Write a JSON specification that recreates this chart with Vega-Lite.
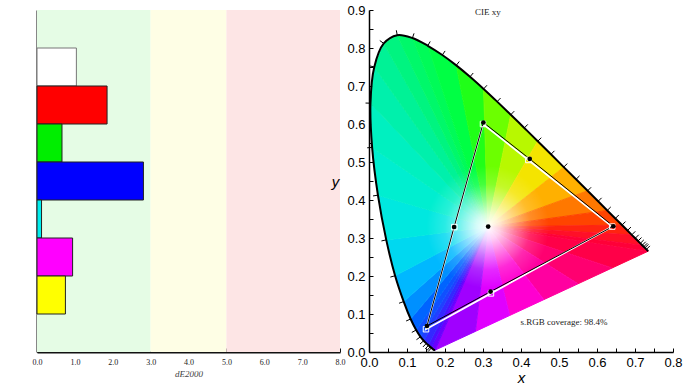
{
  "$schema": "https://vega.github.io/schema/vega-lite/v6.json",
  "background": "white",
  "padding": {"left": 32, "top": 4, "right": 5, "bottom": 2},
  "config": {"view": {"stroke": null}},
  "spacing": 29,
  "bounds": "flush",
  "resolve": {"scale": {"fill": "independent", "stroke": "independent", "color": "independent"}},
  "datasets": {
    "zones": [
      {"zone": "good", "lo": 0, "hi": 3},
      {"zone": "fair", "lo": 3, "hi": 5},
      {"zone": "poor", "lo": 5, "hi": 8}
    ],
    "bars": [
      {"patch": "White", "de": 1.04},
      {"patch": "Red", "de": 1.85},
      {"patch": "Green", "de": 0.66},
      {"patch": "Blue", "de": 2.81},
      {"patch": "Cyan", "de": 0.12},
      {"patch": "Magenta", "de": 0.94},
      {"patch": "Yellow", "de": 0.75}
    ],
    "fan": [
      {"s":0,"o":0,"x":0.3127,"y":0.329},{"s":0,"o":1,"x":0.7347,"y":0.2653},{"s":0,"o":2,"x":0.64,"y":0.2213},
      {"s":1,"o":0,"x":0.3127,"y":0.329},{"s":1,"o":1,"x":0.64,"y":0.2213},{"s":1,"o":2,"x":0.55,"y":0.1795},
      {"s":2,"o":0,"x":0.3127,"y":0.329},{"s":2,"o":1,"x":0.55,"y":0.1795},{"s":2,"o":2,"x":0.46,"y":0.1378},
      {"s":3,"o":0,"x":0.3127,"y":0.329},{"s":3,"o":1,"x":0.46,"y":0.1378},{"s":3,"o":2,"x":0.37,"y":0.096},
      {"s":4,"o":0,"x":0.3127,"y":0.329},{"s":4,"o":1,"x":0.37,"y":0.096},{"s":4,"o":2,"x":0.28,"y":0.0542},
      {"s":5,"o":0,"x":0.3127,"y":0.329},{"s":5,"o":1,"x":0.28,"y":0.0542},{"s":5,"o":2,"x":0.1741,"y":0.005},
      {"s":6,"o":0,"x":0.3127,"y":0.329},{"s":6,"o":1,"x":0.1741,"y":0.005},{"s":6,"o":2,"x":0.1644,"y":0.0109},
      {"s":7,"o":0,"x":0.3127,"y":0.329},{"s":7,"o":1,"x":0.1644,"y":0.0109},{"s":7,"o":2,"x":0.1566,"y":0.0177},
      {"s":8,"o":0,"x":0.3127,"y":0.329},{"s":8,"o":1,"x":0.1566,"y":0.0177},{"s":8,"o":2,"x":0.144,"y":0.0297},
      {"s":9,"o":0,"x":0.3127,"y":0.329},{"s":9,"o":1,"x":0.144,"y":0.0297},{"s":9,"o":2,"x":0.1355,"y":0.0399},
      {"s":10,"o":0,"x":0.3127,"y":0.329},{"s":10,"o":1,"x":0.1355,"y":0.0399},{"s":10,"o":2,"x":0.1241,"y":0.0578},
      {"s":11,"o":0,"x":0.3127,"y":0.329},{"s":11,"o":1,"x":0.1241,"y":0.0578},{"s":11,"o":2,"x":0.1096,"y":0.0868},
      {"s":12,"o":0,"x":0.3127,"y":0.329},{"s":12,"o":1,"x":0.1096,"y":0.0868},{"s":12,"o":2,"x":0.0913,"y":0.1327},
      {"s":13,"o":0,"x":0.3127,"y":0.329},{"s":13,"o":1,"x":0.0913,"y":0.1327},{"s":13,"o":2,"x":0.0687,"y":0.2007},
      {"s":14,"o":0,"x":0.3127,"y":0.329},{"s":14,"o":1,"x":0.0687,"y":0.2007},{"s":14,"o":2,"x":0.0454,"y":0.295},
      {"s":15,"o":0,"x":0.3127,"y":0.329},{"s":15,"o":1,"x":0.0454,"y":0.295},{"s":15,"o":2,"x":0.0235,"y":0.4127},
      {"s":16,"o":0,"x":0.3127,"y":0.329},{"s":16,"o":1,"x":0.0235,"y":0.4127},{"s":16,"o":2,"x":0.0082,"y":0.5384},
      {"s":17,"o":0,"x":0.3127,"y":0.329},{"s":17,"o":1,"x":0.0082,"y":0.5384},{"s":17,"o":2,"x":0.0039,"y":0.6548},
      {"s":18,"o":0,"x":0.3127,"y":0.329},{"s":18,"o":1,"x":0.0039,"y":0.6548},{"s":18,"o":2,"x":0.0139,"y":0.7502},
      {"s":19,"o":0,"x":0.3127,"y":0.329},{"s":19,"o":1,"x":0.0139,"y":0.7502},{"s":19,"o":2,"x":0.0389,"y":0.812},
      {"s":20,"o":0,"x":0.3127,"y":0.329},{"s":20,"o":1,"x":0.0389,"y":0.812},{"s":20,"o":2,"x":0.0743,"y":0.8338},
      {"s":21,"o":0,"x":0.3127,"y":0.329},{"s":21,"o":1,"x":0.0743,"y":0.8338},{"s":21,"o":2,"x":0.1142,"y":0.8262},
      {"s":22,"o":0,"x":0.3127,"y":0.329},{"s":22,"o":1,"x":0.1142,"y":0.8262},{"s":22,"o":2,"x":0.1547,"y":0.8059},
      {"s":23,"o":0,"x":0.3127,"y":0.329},{"s":23,"o":1,"x":0.1547,"y":0.8059},{"s":23,"o":2,"x":0.2296,"y":0.7543},
      {"s":24,"o":0,"x":0.3127,"y":0.329},{"s":24,"o":1,"x":0.2296,"y":0.7543},{"s":24,"o":2,"x":0.3016,"y":0.6923},
      {"s":25,"o":0,"x":0.3127,"y":0.329},{"s":25,"o":1,"x":0.3016,"y":0.6923},{"s":25,"o":2,"x":0.3731,"y":0.6245},
      {"s":26,"o":0,"x":0.3127,"y":0.329},{"s":26,"o":1,"x":0.3731,"y":0.6245},{"s":26,"o":2,"x":0.4441,"y":0.5547},
      {"s":27,"o":0,"x":0.3127,"y":0.329},{"s":27,"o":1,"x":0.4441,"y":0.5547},{"s":27,"o":2,"x":0.5125,"y":0.4866},
      {"s":28,"o":0,"x":0.3127,"y":0.329},{"s":28,"o":1,"x":0.5125,"y":0.4866},{"s":28,"o":2,"x":0.5752,"y":0.4242},
      {"s":29,"o":0,"x":0.3127,"y":0.329},{"s":29,"o":1,"x":0.5752,"y":0.4242},{"s":29,"o":2,"x":0.627,"y":0.3725},
      {"s":30,"o":0,"x":0.3127,"y":0.329},{"s":30,"o":1,"x":0.627,"y":0.3725},{"s":30,"o":2,"x":0.6658,"y":0.334},
      {"s":31,"o":0,"x":0.3127,"y":0.329},{"s":31,"o":1,"x":0.6658,"y":0.334},{"s":31,"o":2,"x":0.6915,"y":0.3083},
      {"s":32,"o":0,"x":0.3127,"y":0.329},{"s":32,"o":1,"x":0.6915,"y":0.3083},{"s":32,"o":2,"x":0.719,"y":0.2809},
      {"s":33,"o":0,"x":0.3127,"y":0.329},{"s":33,"o":1,"x":0.719,"y":0.2809},{"s":33,"o":2,"x":0.7347,"y":0.2653}
    ],
    "locus": [
      {"wl":380,"x":0.1741,"y":0.0050},
      {"wl":420,"x":0.1714,"y":0.0051},
      {"wl":425,"x":0.1703,"y":0.0058},
      {"wl":430,"x":0.1689,"y":0.0069},
      {"wl":435,"x":0.1669,"y":0.0086},
      {"wl":440,"x":0.1644,"y":0.0109,"tx":0.1557,"ty":0.0012},
      {"wl":445,"x":0.1611,"y":0.0138,"tx":0.1526,"ty":0.0040},
      {"wl":450,"x":0.1566,"y":0.0177,"tx":0.1480,"ty":0.0079},
      {"wl":455,"x":0.1510,"y":0.0227,"tx":0.1420,"ty":0.0133},
      {"wl":460,"x":0.1440,"y":0.0297,"tx":0.1343,"ty":0.0210},
      {"wl":465,"x":0.1355,"y":0.0399,"tx":0.1249,"ty":0.0324},
      {"wl":470,"x":0.1241,"y":0.0578,"tx":0.1127,"ty":0.0515},
      {"wl":475,"x":0.1096,"y":0.0868,"tx":0.0977,"ty":0.0816},
      {"wl":480,"x":0.0913,"y":0.1327,"tx":0.0791,"ty":0.1283},
      {"wl":485,"x":0.0687,"y":0.2007,"tx":0.0562,"ty":0.1972},
      {"wl":490,"x":0.0454,"y":0.2950,"tx":0.0327,"ty":0.2923},
      {"wl":495,"x":0.0235,"y":0.4127,"tx":0.0106,"ty":0.4107},
      {"wl":500,"x":0.0082,"y":0.5384,"tx":-0.0048,"ty":0.5374},
      {"wl":505,"x":0.0039,"y":0.6548,"tx":-0.0091,"ty":0.6551},
      {"wl":510,"x":0.0139,"y":0.7502,"tx":0.0012,"ty":0.7530},
      {"wl":515,"x":0.0389,"y":0.8120,"tx":0.0284,"ty":0.8196},
      {"wl":520,"x":0.0743,"y":0.8338,"tx":0.0719,"ty":0.8466},
      {"wl":525,"x":0.1142,"y":0.8262,"tx":0.1185,"ty":0.8385},
      {"wl":530,"x":0.1547,"y":0.8059,"tx":0.1611,"ty":0.8172},
      {"wl":535,"x":0.1929,"y":0.7816,"tx":0.2003,"ty":0.7923},
      {"wl":540,"x":0.2296,"y":0.7543,"tx":0.2376,"ty":0.7645},
      {"wl":545,"x":0.2658,"y":0.7243,"tx":0.2743,"ty":0.7342},
      {"wl":550,"x":0.3016,"y":0.6923,"tx":0.3104,"ty":0.7019},
      {"wl":555,"x":0.3373,"y":0.6589,"tx":0.3462,"ty":0.6683},
      {"wl":560,"x":0.3731,"y":0.6245,"tx":0.3822,"ty":0.6338},
      {"wl":565,"x":0.4087,"y":0.5896,"tx":0.4178,"ty":0.5989},
      {"wl":570,"x":0.4441,"y":0.5547,"tx":0.4533,"ty":0.5639},
      {"wl":575,"x":0.4788,"y":0.5202,"tx":0.4880,"ty":0.5294},
      {"wl":580,"x":0.5125,"y":0.4866,"tx":0.5217,"ty":0.4958},
      {"wl":585,"x":0.5448,"y":0.4544,"tx":0.5540,"ty":0.4636},
      {"wl":590,"x":0.5752,"y":0.4242,"tx":0.5844,"ty":0.4334},
      {"wl":595,"x":0.6029,"y":0.3965,"tx":0.6121,"ty":0.4057},
      {"wl":600,"x":0.6270,"y":0.3725,"tx":0.6362,"ty":0.3817},
      {"wl":605,"x":0.6482,"y":0.3514,"tx":0.6574,"ty":0.3606},
      {"wl":610,"x":0.6658,"y":0.3340,"tx":0.6750,"ty":0.3432},
      {"wl":615,"x":0.6801,"y":0.3197,"tx":0.6893,"ty":0.3289},
      {"wl":620,"x":0.6915,"y":0.3083,"tx":0.7007,"ty":0.3175},
      {"wl":625,"x":0.7006,"y":0.2993,"tx":0.7098,"ty":0.3085},
      {"wl":630,"x":0.7079,"y":0.2920,"tx":0.7171,"ty":0.3012},
      {"wl":635,"x":0.7140,"y":0.2859,"tx":0.7232,"ty":0.2951},
      {"wl":640,"x":0.7190,"y":0.2809,"tx":0.7282,"ty":0.2901},
      {"wl":645,"x":0.7230,"y":0.2770,"tx":0.7322,"ty":0.2862},
      {"wl":650,"x":0.7260,"y":0.2740,"tx":0.7352,"ty":0.2832},
      {"wl":660,"x":0.7300,"y":0.2700,"tx":0.7392,"ty":0.2792},
      {"wl":670,"x":0.7320,"y":0.2680},
      {"wl":680,"x":0.7334,"y":0.2666},
      {"wl":700,"x":0.7347,"y":0.2653}
    ],
    "d65": [{"x": 0.3127, "y": 0.329}],
    "srgb": [
      {"pt":"R","o":0,"x":0.64,"y":0.33},
      {"pt":"Y","o":1,"x":0.4193,"y":0.5053},
      {"pt":"G","o":2,"x":0.30,"y":0.60},
      {"pt":"C","o":3,"x":0.2246,"y":0.3287},
      {"pt":"B","o":4,"x":0.15,"y":0.06},
      {"pt":"M","o":5,"x":0.3209,"y":0.1542},
      {"pt":"R","o":6,"x":0.64,"y":0.33}
    ],
    "measured": [
      {"pt":"R","o":0,"x":0.643,"y":0.331},
      {"pt":"Y","o":1,"x":0.423,"y":0.508},
      {"pt":"G","o":2,"x":0.301,"y":0.604},
      {"pt":"C","o":3,"x":0.224,"y":0.329},
      {"pt":"B","o":4,"x":0.1525,"y":0.0685},
      {"pt":"M","o":5,"x":0.320,"y":0.159},
      {"pt":"R","o":6,"x":0.643,"y":0.331},
      {"pt":"W","o":7,"x":0.3136,"y":0.330}
    ],
    "notes": [
      {"text":"CIE xy","x":0.313,"y":0.896},
      {"text":"s.RGB coverage: 98.4%","x":0.513,"y":0.079}
    ]
  },
  "hconcat": [
    {
      "width": 303,
      "height": 342,
      "layer": [
        {
          "data": {"name": "zones"},
          "mark": {"type": "rect"},
          "encoding": {
            "x": {
              "field": "lo", "type": "quantitative",
              "scale": {"domain": [0, 8], "nice": false, "zero": false},
              "axis": {
                "values": [0,0.5,1,1.5,2,2.5,3,3.5,4,4.5,5,5.5,6,6.5,7,7.5,8],
                "labelExpr": "datum.value % 1 == 0 ? format(datum.value, '.1f') : ''",
                "title": "dE2000",
                "titleFont": "Liberation Serif", "titleFontStyle": "italic", "titleFontWeight": "normal",
                "titleFontSize": 9, "titleColor": "#444444", "titlePadding": 3,
                "labelFont": "Liberation Serif", "labelFontSize": 8, "labelColor": "#222222",
                "labelPadding": 10, "labelFlush": false, "labelOverlap": false,
                "domainColor": "#111111", "domainWidth": 2,
                "tickColor": "#111111", "tickSize": -4, "tickWidth": 1,
                "grid": false
              }
            },
            "x2": {"field": "hi"},
            "color": {
              "field": "zone", "type": "nominal",
              "scale": {"domain": ["good", "fair", "poor"], "range": ["#e5fce5", "#fefee5", "#fde5e5"]},
              "legend": null
            }
          }
        },
        {
          "data": {"name": "bars"},
          "mark": {"type": "bar", "strokeWidth": 1},
          "encoding": {
            "x": {
              "field": "de", "type": "quantitative",
              "scale": {"domain": [0, 8], "nice": false, "zero": false},
              "axis": {
                "values": [0,0.5,1,1.5,2,2.5,3,3.5,4,4.5,5,5.5,6,6.5,7,7.5,8],
                "labelExpr": "datum.value % 1 == 0 ? format(datum.value, '.1f') : ''",
                "title": "dE2000",
                "titleFont": "Liberation Serif", "titleFontStyle": "italic", "titleFontWeight": "normal",
                "titleFontSize": 9, "titleColor": "#444444", "titlePadding": 3,
                "labelFont": "Liberation Serif", "labelFontSize": 8, "labelColor": "#222222",
                "labelPadding": 10, "labelFlush": false, "labelOverlap": false,
                "domainColor": "#111111", "domainWidth": 2,
                "tickColor": "#111111", "tickSize": -4, "tickWidth": 1,
                "grid": false
              }
            },
            "y": {
              "field": "patch", "type": "nominal", "sort": null,
              "scale": {"paddingInner": 0, "paddingOuter": 1},
              "axis": {"title": null, "labels": false, "ticks": false, "domainColor": "#111111", "domainWidth": 2, "grid": false}
            },
            "fill": {
              "field": "patch", "type": "nominal",
              "scale": {"domain": ["White","Red","Green","Blue","Cyan","Magenta","Yellow"],
                        "range": ["#ffffff","#ff0000","#00ee00","#0000ff","#00eeee","#ff00ff","#ffff00"]},
              "legend": null
            },
            "stroke": {
              "field": "patch", "type": "nominal",
              "scale": {"domain": ["White","Red","Green","Blue","Cyan","Magenta","Yellow"],
                        "range": ["#777777","#222222","#222222","#222222","#222222","#222222","#222222"]},
              "legend": null
            }
          }
        }
      ]
    },
    {
      "width": 304,
      "height": 342,
      "encoding": {
        "x": {
          "field": "x", "type": "quantitative",
          "scale": {"domain": [0, 0.8], "nice": false, "zero": false},
          "axis": {
            "values": [0,0.05,0.1,0.15,0.2,0.25,0.3,0.35,0.4,0.45,0.5,0.55,0.6,0.65,0.7,0.75,0.8],
            "labelExpr": "round(datum.value*20) % 2 == 0 ? format(datum.value, '.1f') : ''",
            "title": "x",
            "titleFont": "Liberation Sans", "titleFontStyle": "italic", "titleFontWeight": "normal",
            "titleFontSize": 15, "titleColor": "#000000", "titlePadding": 1,
            "labelFont": "Liberation Sans", "labelFontSize": 13, "labelColor": "#000000",
            "labelPadding": 8, "labelFlush": false, "labelOverlap": false,
            "domainColor": "#000000", "domainWidth": 1.5,
            "tickColor": "#000000", "tickSize": -4, "tickWidth": 1,
            "grid": false
          }
        },
        "y": {
          "field": "y", "type": "quantitative",
          "scale": {"domain": [0, 0.9], "nice": false, "zero": false},
          "axis": {
            "values": [0,0.05,0.1,0.15,0.2,0.25,0.3,0.35,0.4,0.45,0.5,0.55,0.6,0.65,0.7,0.75,0.8,0.85,0.9],
            "labelExpr": "round(datum.value*20) % 2 == 0 ? format(datum.value, '.1f') : ''",
            "title": "y",
            "titleFont": "Liberation Sans", "titleFontStyle": "italic", "titleFontWeight": "normal",
            "titleFontSize": 15, "titleColor": "#000000",
            "titleAngle": 0, "titleX": -34, "titleY": 171, "titleAlign": "center", "titleBaseline": "middle",
            "labelFont": "Liberation Sans", "labelFontSize": 13, "labelColor": "#000000",
            "labelPadding": 8, "labelFlush": false, "labelOverlap": false,
            "domainColor": "#000000", "domainWidth": 1.5,
            "tickColor": "#000000", "tickSize": -4, "tickWidth": 1,
            "grid": false
          }
        }
      },
      "resolve": {"scale": {"fill": "independent", "stroke": "independent"}},
      "layer": [
        {
          "data": {"name": "fan"},
          "mark": {"type": "line", "strokeWidth": 1, "strokeJoin": "round"},
          "encoding": {
            "order": {"field": "o", "type": "quantitative"},
            "fill": {
              "field": "s", "type": "nominal",
              "scale": {
                "domain": [0,1,2,3,4,5,6,7,8,9,10,11,12,13,14,15,16,17,18,19,20,21,22,23,24,25,26,27,28,29,30,31,32,33],
                "range": ["#ff0048","#ff0070","#ff00a0","#ff00d0","#e000ff","#a000ff","#6a00ff","#4a10ff","#3428ff","#2040ff","#1050ff","#0064ff","#0090ff","#00b8ff","#00d8f0","#00e8e0","#00eed0","#00f0c0","#00f0ac","#00f296","#00f480","#00f86a","#00fb58","#00ff44","#20ff18","#6cff00","#b8f800","#f4e400","#ffb000","#ff7800","#ff4400","#ff2410","#ff1028","#ff0038"]
              },
              "legend": null
            },
            "stroke": {
              "field": "s", "type": "nominal",
              "scale": {
                "domain": [0,1,2,3,4,5,6,7,8,9,10,11,12,13,14,15,16,17,18,19,20,21,22,23,24,25,26,27,28,29,30,31,32,33],
                "range": ["#ff0048","#ff0070","#ff00a0","#ff00d0","#e000ff","#a000ff","#6a00ff","#4a10ff","#3428ff","#2040ff","#1050ff","#0064ff","#0090ff","#00b8ff","#00d8f0","#00e8e0","#00eed0","#00f0c0","#00f0ac","#00f296","#00f480","#00f86a","#00fb58","#00ff44","#20ff18","#6cff00","#b8f800","#f4e400","#ffb000","#ff7800","#ff4400","#ff2410","#ff1028","#ff0038"]
              },
              "legend": null
            }
          }
        },
        {
          "data": {"name": "d65"},
          "mark": {
            "type": "point", "shape": "circle", "filled": true, "size": 15000, "opacity": 1, "strokeWidth": 0,
            "fill": {
              "gradient": "radial", "x1": 0.5, "y1": 0.5, "r1": 0, "x2": 0.5, "y2": 0.5, "r2": 0.5,
              "stops": [
                {"offset": 0, "color": "rgba(255,255,255,1)"},
                {"offset": 0.2, "color": "rgba(255,255,255,0.82)"},
                {"offset": 0.45, "color": "rgba(255,255,255,0.48)"},
                {"offset": 0.7, "color": "rgba(255,255,255,0.16)"},
                {"offset": 1, "color": "rgba(255,255,255,0)"}
              ]
            }
          }
        },
        {
          "data": {"name": "locus"},
          "mark": {"type": "line", "color": "#000000", "strokeWidth": 2, "interpolate": "catmull-rom"},
          "encoding": {"order": {"field": "wl", "type": "quantitative"}}
        },
        {
          "data": {"name": "locus"},
          "transform": [{"filter": "isValid(datum.tx)"}],
          "mark": {"type": "rule", "color": "#000000", "strokeWidth": 1},
          "encoding": {"x2": {"field": "tx"}, "y2": {"field": "ty"}}
        },
        {
          "data": {"name": "srgb"},
          "mark": {"type": "line", "color": "#ffffff", "strokeWidth": 1.8},
          "encoding": {"order": {"field": "o", "type": "quantitative"}}
        },
        {
          "data": {"name": "measured"},
          "transform": [{"filter": "datum.pt != 'W'"}],
          "mark": {"type": "line", "color": "#000000", "strokeWidth": 1},
          "encoding": {"order": {"field": "o", "type": "quantitative"}}
        },
        {
          "data": {"name": "srgb"},
          "transform": [{"filter": "datum.o < 6"}],
          "mark": {"type": "point", "shape": "square", "filled": false, "size": 30, "stroke": "#ffffff", "strokeWidth": 1, "opacity": 1}
        },
        {
          "data": {"name": "measured"},
          "transform": [{"filter": "datum.o != 6"}],
          "mark": {"type": "point", "shape": "circle", "filled": true, "size": 22, "color": "#000000", "opacity": 1}
        },
        {
          "data": {"name": "notes"},
          "mark": {"type": "text", "font": "Liberation Serif", "fontSize": 9, "color": "#222222", "align": "center", "baseline": "middle"},
          "encoding": {"text": {"field": "text", "type": "nominal"}}
        }
      ]
    }
  ]
}
